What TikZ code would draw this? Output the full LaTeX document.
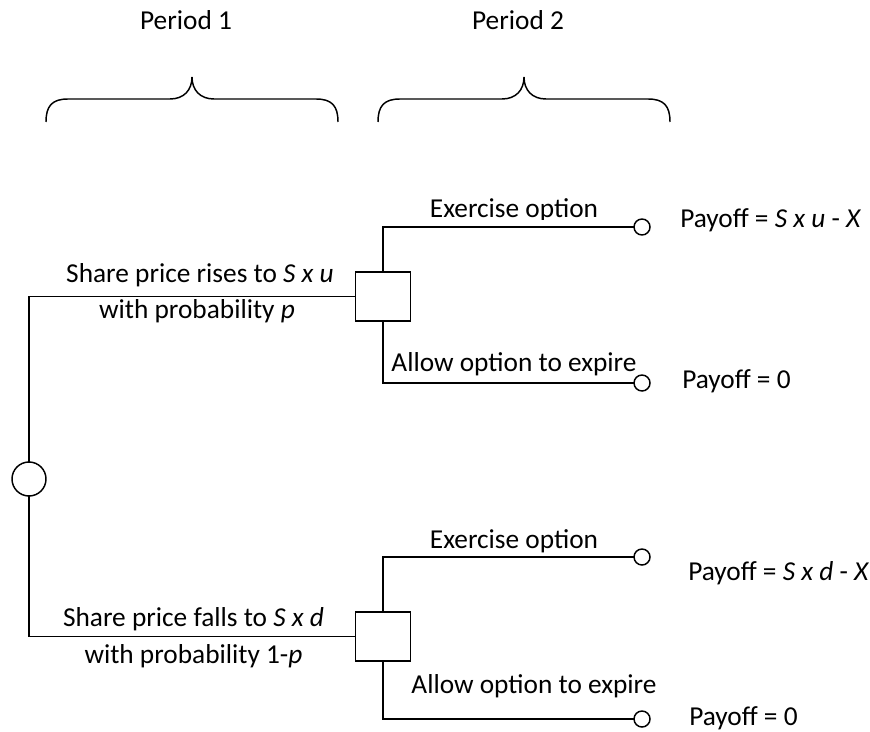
\documentclass[tikz,border=0pt]{standalone}
\usepackage{fontspec}
\setmainfont{Carlito}
\begin{document}
\begin{tikzpicture}[x=0.75pt,y=-0.75pt,
  lbl/.style={inner sep=0pt,anchor=base,font=\fontsize{20.5pt}{24pt}\selectfont},
  wire/.style={line width=1.1pt,line cap=rect},
  chance/.style={circle,draw,line width=1.1pt,minimum size=25.5pt,inner sep=0pt},
  decision/.style={rectangle,draw,line width=1.1pt,minimum width=41pt,minimum height=37pt,inner sep=0pt},
  leaf/.style={circle,draw,line width=1.1pt,minimum size=12pt,inner sep=0pt},
  bracepath/.style={line width=1.1pt}]
\useasboundingbox (0,0) rectangle (870,731);

% period labels
\node[lbl] (p1) at (186,30) {Period 1};
\node[lbl] (p2) at (518,30) {Period 2};

% braces
\draw[bracepath] (46,122) .. controls (46,106) and (52,99) .. (68,99) -- (170,99)
  .. controls (184,99) and (192,90) .. (192,77)
  .. controls (192,90) and (200,99) .. (214,99) -- (316,99)
  .. controls (332,99) and (338,106) .. (338,122);
\draw[bracepath] (378,122) .. controls (378,106) and (384,99) .. (400,99) -- (502,99)
  .. controls (516,99) and (524,90) .. (524,77)
  .. controls (524,90) and (532,99) .. (546,99) -- (648,99)
  .. controls (664,99) and (670,106) .. (670,122);

% nodes
\node[chance] (c0) at (29,479) {};
\node[decision] (d1) at (383,296.5) {};
\node[decision] (d2) at (383,636.5) {};
\node[leaf] (e1) at (642,227) {};
\node[leaf] (e2) at (642,383) {};
\node[leaf] (e3) at (642,557) {};
\node[leaf] (e4) at (642,719) {};

% connectors
\draw[wire] (c0.north) |- (d1.west);
\draw[wire] (c0.south) |- (d2.west);
\draw[wire] (d1.north) |- (e1.west);
\draw[wire] (d1.south) |- (e2.west);
\draw[wire] (d2.north) |- (e3.west);
\draw[wire] (d2.south) |- (e4.west);

% branch labels
\node[lbl] (t1) at (200,282) {Share price rises to \textit{S x u}};
\node[lbl] (t2) at (197,318) {with probability \textit{p}};
\node[lbl] (t3) at (193.5,626) {Share price falls to \textit{S x d}};
\node[lbl] (t4) at (193.5,663) {with probability 1-\textit{p}};

\begin{scope}
\clip (400,150) rectangle (620,219);
\node[lbl] (x1) at (514,217) {Exercise option};
\end{scope}
\node[lbl] (a1) at (514,371) {Allow option to expire};
\node[lbl] (x2) at (514,548) {Exercise option};
\node[lbl] (a2) at (534,693) {Allow option to expire};

% payoffs
\node[lbl,anchor=base west] (y1) at (680,227) {Payoff = \textit{S x u} - \textit{X}};
\node[lbl,anchor=base west] (y2) at (682,388) {Payoff = 0};
\node[lbl,anchor=base west] (y3) at (688,580) {Payoff = \textit{S x d} - \textit{X}};
\node[lbl,anchor=base west] (y4) at (689,725) {Payoff = 0};
\end{tikzpicture}
\end{document}
